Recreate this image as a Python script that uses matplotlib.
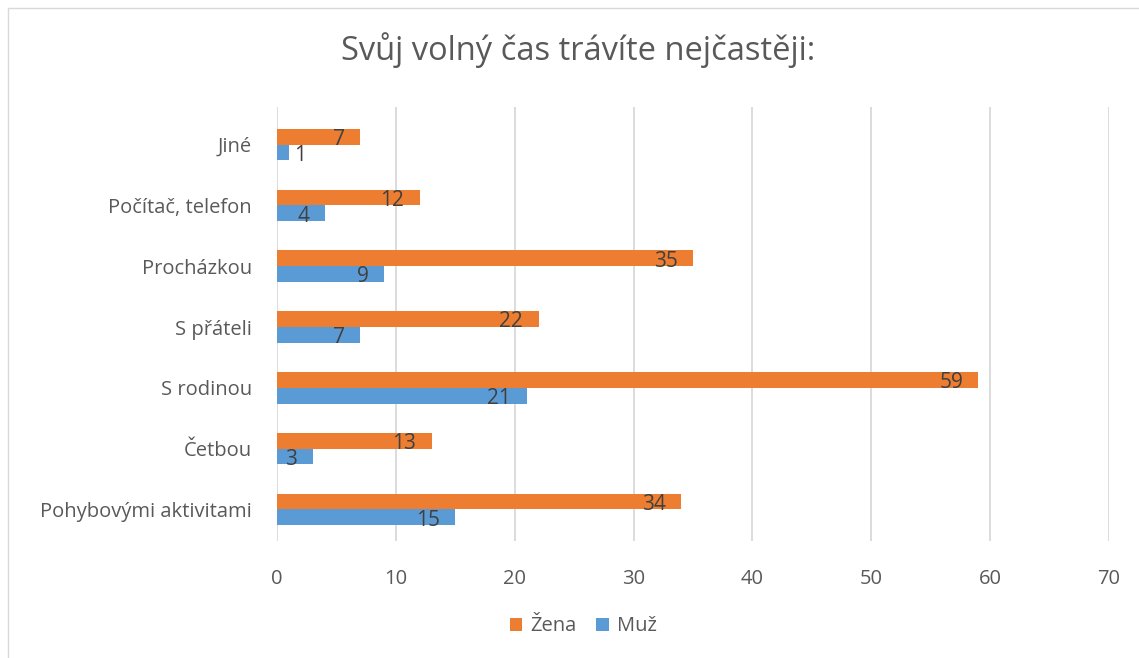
import matplotlib.pyplot as plt
import numpy as np
from matplotlib.patches import Rectangle

# data (bottom to top as drawn)
categories = ['Pohybovými aktivitami', 'Četbou', 'S rodinou', 'S přáteli',
              'Procházkou', 'Počítač, telefon', 'Jiné']
zena = [34, 13, 59, 22, 35, 12, 7]
muz = [15, 3, 21, 7, 9, 4, 1]

orange = '#ED7D31'
blue = '#5B9BD5'
txt = '#595959'

plt.rcParams['font.family'] = ['Open Sans', 'DejaVu Sans']

fig = plt.figure(figsize=(11.39, 6.58), dpi=100)
ax = fig.add_axes([0.2432, 0.1778, 0.9737 - 0.2432, 0.8374 - 0.1778])

y = np.arange(len(categories))
h = 0.26
b1 = ax.barh(y + h / 2, zena, height=h, color=orange, label='Žena', zorder=3)
b2 = ax.barh(y - h / 2, muz, height=h, color=blue, label='Muž', zorder=3)

for bars, vals in ((b1, zena), (b2, muz)):
    for bar, v in zip(bars, vals):
        yc = bar.get_y() + bar.get_height() / 2
        if v < 2:
            ax.annotate(str(v), (v, yc), xytext=(4, -2), textcoords='offset points',
                        ha='left', va='center', fontsize=15, color='#404040', zorder=4)
        else:
            ax.annotate(str(v), (v, yc), xytext=(-11, -2), textcoords='offset points',
                        ha='right', va='center', fontsize=15, color='#404040', zorder=4)

ax.set_xlim(0, 70)
ax.set_ylim(-0.52, 6.62)
ax.set_xticks(np.arange(0, 71, 10))
ax.set_yticks(y)
ax.set_yticklabels(categories)
ax.tick_params(axis='both', length=0, labelsize=14.5, colors=txt)
ax.tick_params(axis='y', pad=18)
ax.tick_params(axis='x', pad=20)
ax.grid(axis='x', color='#D9D9D9', linewidth=1.3, zorder=0)
for s in ax.spines.values():
    s.set_visible(False)

fig.text(0.508, 0.924, 'Svůj volný čas trávíte nejčastěji:', ha='center', va='center',
         fontsize=23.5, color=txt)

handles, labels = ax.get_legend_handles_labels()
fig.legend(handles, labels, loc='center', bbox_to_anchor=(0.512, 0.048), ncol=2,
           frameon=False, fontsize=14.5, handlelength=0.6, handleheight=0.6,
           handletextpad=0.4, columnspacing=1.0, labelcolor=txt)

fig.patches.append(Rectangle((0.007, -0.1), 1.1, 1.088, transform=fig.transFigure,
                             fill=False, edgecolor='#D9D9D9', linewidth=1))

fig.savefig('out.png', dpi=100)
